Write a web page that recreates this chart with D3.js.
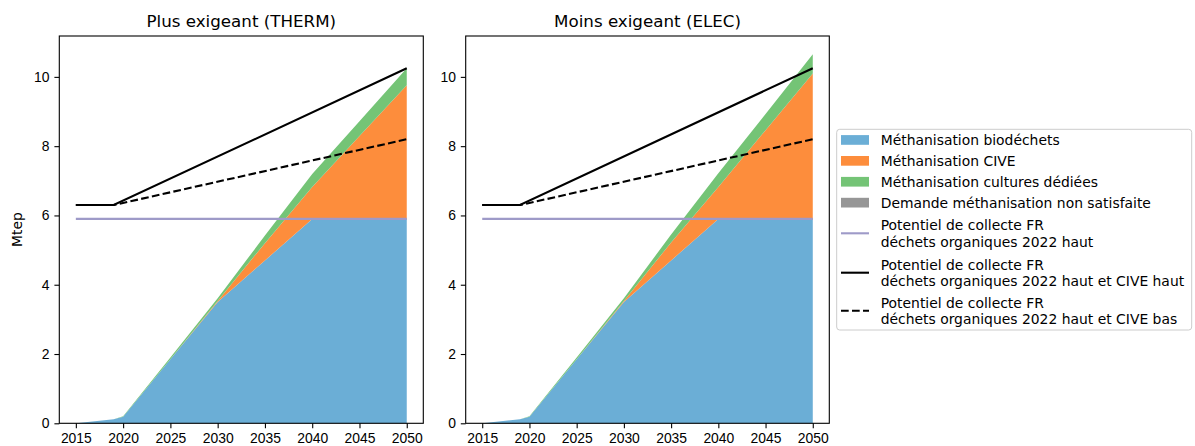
<!DOCTYPE html>
<html>
<head>
<meta charset="utf-8">
<script src="https://cdn.jsdelivr.net/npm/d3@7"></script>
<style>
  body { margin: 0; background: #fff; }
  svg { font-family: "DejaVu Sans", sans-serif; }
  .axis path, .axis line { stroke: #000; stroke-width: 1.1px; }
  .axis text { font-size: 13.9px; fill: #000; }
</style>
</head>
<body>
<svg id="area" width="1195" height="446"></svg>
<script>

// years of the scenario
let years = [2015, 2019, 2020, 2025, 2030, 2035, 2040, 2045, 2050];

// THERM (plus exigeant)
let thermBio = [0.0, 0.12, 0.19, 1.85, 3.5, 4.7, 5.9, 5.9, 5.9];
let thermCive = [0, 0, 0, 0, 0.03, 0.5, 0.92, 2.39, 3.86];
let thermCult = [0, 0, 0.01, 0.05, 0.08, 0.22, 0.38, 0.43, 0.49];
let thermNonSat = [0, 0, 0, 0, 0, 0, 0, 0, 0];

// ELEC (moins exigeant)
let elecBio = [0.0, 0.12, 0.19, 1.85, 3.5, 4.7, 5.9, 5.9, 5.9];
let elecCive = [0, 0, 0, 0, 0.03, 0.52, 0.92, 2.56, 4.2];
let elecCult = [0, 0, 0.01, 0.05, 0.08, 0.23, 0.4, 0.47, 0.55];
let elecNonSat = [0, 0, 0, 0, 0, 0, 0, 0, 0];

// potentiels (lignes)
let potYears = [2015, 2019, 2050];
let potHaut = [5.9, 5.9, 5.9];
let potCiveHaut = [6.3, 6.3, 10.25];
let potCiveBas = [6.3, 6.3, 8.2];

let titles = ["Plus exigeant (THERM)", "Moins exigeant (ELEC)"];
let keys = ["bio", "cive", "cult", "nonsat"];
let colors = ["#6baed6", "#fd8d3c", "#74c476", "#969696"];
let legendLabels = [
  ["Méthanisation biodéchets"],
  ["Méthanisation CIVE"],
  ["Méthanisation cultures dédiées"],
  ["Demande méthanisation non satisfaite"],
  ["Potentiel de collecte FR", "déchets organiques 2022 haut"],
  ["Potentiel de collecte FR", "déchets organiques 2022 haut et CIVE haut"],
  ["Potentiel de collecte FR", "déchets organiques 2022 haut et CIVE bas"]
];
let xTicks = [2015, 2020, 2025, 2030, 2035, 2040, 2045, 2050];
let yTicks = [0, 2, 4, 6, 8, 10];

let svg = d3.select("#area");

let panels = [
  {left: 59.3, right: 423.3, bio: thermBio, cive: thermCive, cult: thermCult, nonsat: thermNonSat},
  {left: 465.7, right: 829.3, bio: elecBio, cive: elecCive, cult: elecCult, nonsat: elecNonSat}
];
let plotTop = 36, plotBottom = 423.3;

let yScale = d3.scaleLinear()
    .domain([0, 11.18])
    .range([plotBottom, plotTop]);

let lineStyles = [
  {vals: potHaut, color: "#9e9ac8", dash: null},
  {vals: potCiveHaut, color: "#000", dash: null},
  {vals: potCiveBas, color: "#000", dash: "7.7,3.3"}
];

panels.forEach((p, i) => {
  let xScale = d3.scaleLinear()
    .domain([2013.25, 2051.75])
    .range([p.left, p.right]);

  let rows = years.map((y, j) => ({year: y, bio: p.bio[j], cive: p.cive[j], cult: p.cult[j], nonsat: p.nonsat[j]}));
  let stacked = d3.stack().keys(keys)(rows);

  let area = d3.area()
    .x(d => xScale(d.data.year))
    .y0(d => yScale(d[0]))
    .y1(d => yScale(d[1]));

  let g = svg.append("g").attr("class", "chart");

  g.selectAll("path.layer")
    .data(stacked)
    .enter().append("path")
    .attr("class", "layer")
    .attr("d", area)
    .style("fill", (d, k) => colors[k]);

  let line = d3.line()
    .x((d, k) => xScale(potYears[k]))
    .y(d => yScale(d));

  lineStyles.forEach(ls => {
    g.append("path")
      .datum(ls.vals)
      .attr("d", line)
      .style("fill", "none")
      .style("stroke", ls.color)
      .style("stroke-width", "2.1px")
      .style("stroke-dasharray", ls.dash);
  });

  // frame
  g.append("rect")
    .attr("x", p.left).attr("y", plotTop)
    .attr("width", p.right - p.left).attr("height", plotBottom - plotTop)
    .style("fill", "none").style("stroke", "#000").style("stroke-width", "1.1px");

  svg.append("g")
    .attr("class", "axis")
    .attr("transform", "translate(0," + plotBottom + ")")
    .call(d3.axisBottom(xScale).tickValues(xTicks).tickFormat(d3.format("d")).tickSize(4.9).tickPadding(4.9))
    .call(a => a.select(".domain").remove());

  svg.append("g")
    .attr("class", "axis")
    .attr("transform", "translate(" + p.left + ",0)")
    .call(d3.axisLeft(yScale).tickValues(yTicks).tickSize(4.9).tickPadding(4.9))
    .call(a => a.select(".domain").remove());

  svg.append("text")
    .attr("x", (p.left + p.right) / 2)
    .attr("y", 26.5)
    .attr("text-anchor", "middle")
    .style("font-size", "16.7px")
    .text(titles[i]);
});

svg.append("text")
  .attr("transform", "translate(22," + ((plotTop + plotBottom) / 2) + ") rotate(-90)")
  .attr("text-anchor", "middle")
  .style("font-size", "13.9px")
  .text("Mtep");

// legend
let lg = svg.append("g").attr("transform", "translate(836.7,129.3)");
lg.append("rect")
  .attr("width", 355).attr("height", 200.7)
  .attr("rx", 3)
  .style("fill", "#fff").style("stroke", "#cccccc").style("stroke-width", "1px");

let rowY = [10.7, 31.6, 52.5, 73.4, 104, 143.4, 181.4];
legendLabels.forEach((lab, k) => {
  let cy = rowY[k];
  if (k < 4) {
    lg.append("rect")
      .attr("x", 4.3).attr("y", cy - 4.9)
      .attr("width", 28).attr("height", 9.7)
      .style("fill", colors[k]);
  } else {
    let ls = lineStyles[k - 4];
    lg.append("line")
      .attr("x1", 4.3).attr("x2", 32.3)
      .attr("y1", cy).attr("y2", cy)
      .style("stroke", ls.color)
      .style("stroke-width", "2.1px")
      .style("stroke-dasharray", ls.dash);
  }
  let t = lg.append("text")
    .attr("x", 44)
    .style("font-size", "13.9px");
  lab.forEach((s, m) => {
    let off = lab.length === 1 ? 0 : (m === 0 ? -8.2 : 8.2);
    t.append("tspan")
      .attr("x", 44)
      .attr("y", cy + off)
      .attr("dy", "0.36em")
      .text(s);
  });
});

</script>
</body>
</html>
